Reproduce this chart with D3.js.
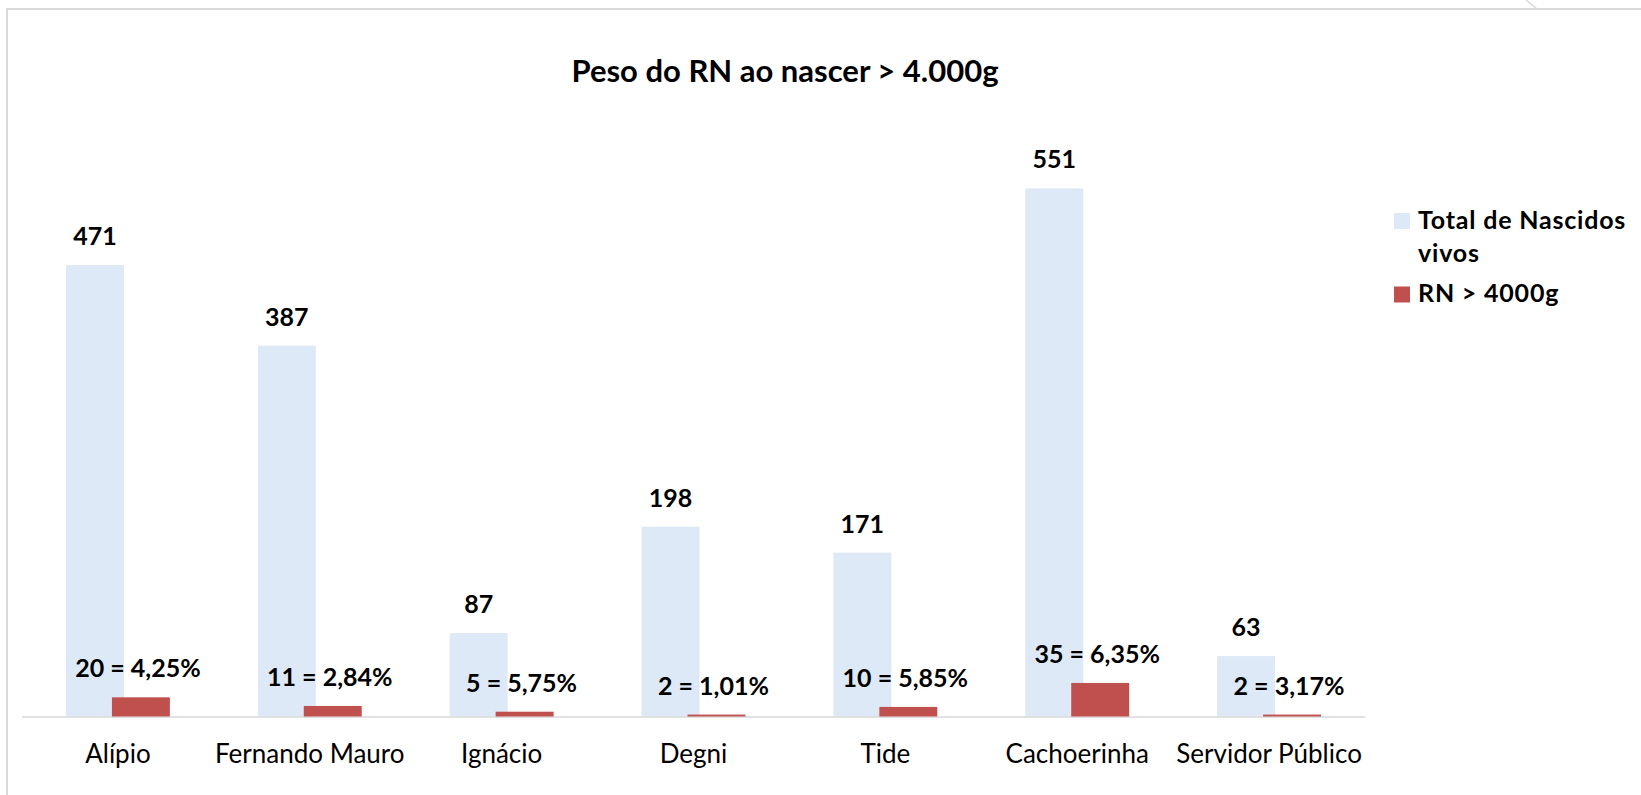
<!DOCTYPE html>
<html>
<head>
<meta charset="utf-8">
<script src="https://cdn.jsdelivr.net/npm/d3@7"></script>
<style>
  html, body { margin: 0; padding: 0; background: #ffffff; }
  svg { display: block; }
  text { font-family: Lato, "Open Sans", sans-serif; fill: #000; }
</style>
</head>
<body>
<svg id="chart" width="1641" height="795"></svg>
<script>
// Births per health unit and newborns weighing more than 4000 g
const categories = ["Alípio", "Fernando Mauro", "Ignácio", "Degni", "Tide", "Cachoerinha", "Servidor Público"];
const totalBirths = [471, 387, 87, 198, 171, 551, 63];
const heavyBirths = [20, 11, 5, 2, 10, 35, 2];
const heavyPct = ["4,25%", "2,84%", "5,75%", "1,01%", "5,85%", "6,35%", "3,17%"];
const seriesNames = ["Total de Nascidos vivos", "RN > 4000g"];
const colors = ["#dde9f6", "#c0504d"];

const svg = d3.select("#chart");
const W = 1641, H = 795;

// frame around the chart
svg.append("path")
  .attr("d", `M7,${H} L7,9 L${W},9`)
  .attr("fill", "none")
  .attr("stroke", "#d9d9d9")
  .attr("stroke-width", 2);
svg.append("line")
  .attr("x1", 1526).attr("y1", 0).attr("x2", 1537).attr("y2", 9)
  .attr("stroke", "#d9d9d9").attr("stroke-width", 1.5);

// plot area
const plot = { left: 22, right: 1365, top: 141.5, bottom: 716.5 };

const x = d3.scaleBand()
  .domain(categories)
  .range([plot.left, plot.right])
  .paddingInner(0)
  .paddingOuter(0);

const y = d3.scaleLinear()
  .domain([0, 600])
  .range([plot.bottom, plot.top]);

const band = x.bandwidth();
const barW = band * 0.302;
const overlap = band * 0.0625;
const groupW = 2 * barW - overlap;

const rows = categories.map((c, i) => ({
  cat: c, total: totalBirths[i], heavy: heavyBirths[i], pct: heavyPct[i]
}));

const blueX = d => x(d.cat) + (band - groupW) / 2;
const redX = d => blueX(d) + barW - overlap;

// total births
svg.append("g").selectAll("rect")
  .data(rows).join("rect")
  .attr("x", blueX)
  .attr("width", barW)
  .attr("y", d => y(d.total))
  .attr("height", d => y(0) - y(d.total))
  .attr("fill", colors[0]);

// axis baseline
svg.append("line")
  .attr("x1", plot.left).attr("x2", plot.right)
  .attr("y1", plot.bottom + 0.5).attr("y2", plot.bottom + 0.5)
  .attr("stroke", "#d9d9d9").attr("stroke-width", 1.5);

// newborns > 4000 g
svg.append("g").selectAll("rect")
  .data(rows).join("rect")
  .attr("x", redX)
  .attr("width", barW)
  .attr("y", d => y(d.heavy))
  .attr("height", d => y(0) - y(d.heavy))
  .attr("fill", colors[1]);

// value labels
svg.append("g").selectAll("text")
  .data(rows).join("text")
  .attr("x", d => blueX(d) + barW / 2)
  .attr("y", d => y(d.total) - 20)
  .attr("text-anchor", "middle")
  .attr("font-weight", "bold")
  .attr("font-size", 25)
  .text(d => d.total);

svg.append("g").selectAll("text")
  .data(rows).join("text")
  .attr("x", d => redX(d) + barW / 2 - 3)
  .attr("y", d => y(d.heavy) - 20)
  .attr("text-anchor", "middle")
  .attr("font-weight", "bold")
  .attr("font-size", 25)
  .text(d => `${d.heavy} = ${d.pct}`);

// category axis labels
const xAxis = d3.axisBottom(x).tickSize(0).tickPadding(0);
const gx = svg.append("g")
  .attr("transform", `translate(0,${plot.bottom})`)
  .call(xAxis);
gx.select(".domain").remove();
gx.selectAll(".tick text")
  .attr("y", 46)
  .attr("dy", 0)
  .attr("font-size", 26)
  .attr("font-family", "Lato, 'Open Sans', sans-serif")
  .attr("fill", "#000");

// title
svg.append("text")
  .attr("x", 785)
  .attr("y", 82)
  .attr("text-anchor", "middle")
  .attr("font-weight", "bold")
  .attr("font-size", 31)
  .text("Peso do RN ao nascer > 4.000g");

// legend
const legend = svg.append("g")
  .attr("font-weight", "bold")
  .attr("font-size", 25)
  .attr("letter-spacing", 0.8);
legend.append("rect").attr("x", 1394).attr("y", 213).attr("width", 16).attr("height", 16).attr("fill", colors[0]);
legend.append("text").attr("x", 1418).attr("y", 228.5).text("Total de Nascidos");
legend.append("text").attr("x", 1418).attr("y", 261.5).text("vivos");
legend.append("rect").attr("x", 1394).attr("y", 286.5).attr("width", 16).attr("height", 16).attr("fill", colors[1]);
legend.append("text").attr("x", 1418).attr("y", 301.5).text(seriesNames[1]);
</script>
</body>
</html>
